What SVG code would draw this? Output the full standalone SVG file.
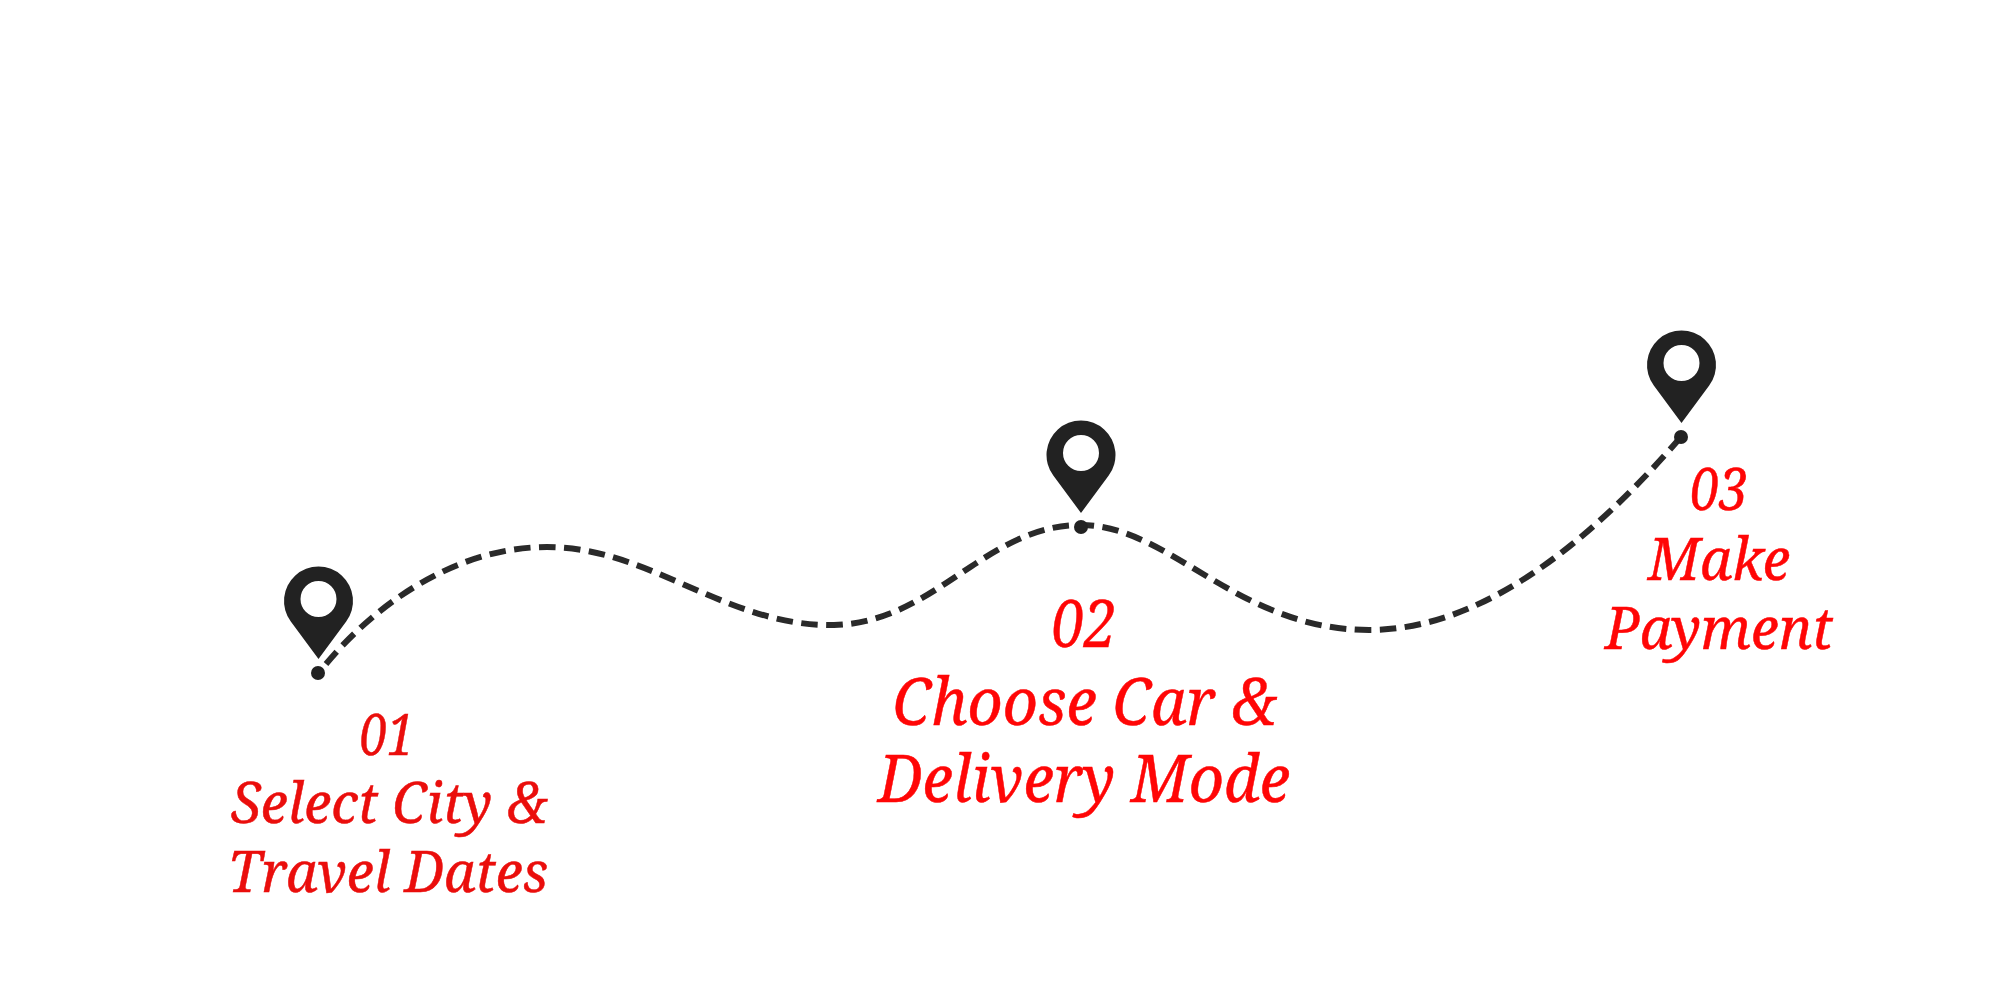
<svg xmlns="http://www.w3.org/2000/svg" width="2000" height="1000" viewBox="0 0 2000 1000">
<style>
text{font-family:"Noto Serif","Droid Serif","DejaVu Serif","Liberation Serif",serif;font-style:italic;text-anchor:middle;fill:#ff0606;stroke:#ff0606;stroke-width:.5}
.s1{font-size:56px;fill:#ea0e0c;stroke:#ea0e0c}
.s2{font-size:66px}
.s3{font-size:58px}
.route{fill:none;stroke:#2a2a2a;stroke-width:6;stroke-dasharray:16.500 8.500}
.dot{fill:#222}
</style>
<defs>
<g id="pin"><path fill="#222" fill-rule="evenodd" d="M0 91L-27.700 53.500A34.500 34.500 0 1 1 27.700 53.500ZM0 13A18 18 0 1 0 0 49A18 18 0 1 0 0 13Z"/></g>
</defs>
<rect width="2000" height="1000" fill="#fff"/>
<g id="connectors"><path class="route" d="M326 664C375 605 455 547 547 547C650 547 727 627 834 625C935 623 985 525 1081 525C1170 525 1237 630 1369 630C1490 630 1600 530 1681 437"/></g>
<g id="node-1"><use href="#pin" x="318.500" y="568"/><circle class="dot" cx="318" cy="673" r="7"/>
<text class="s1" x="387" y="755" textLength="55" lengthAdjust="spacingAndGlyphs">01</text><text class="s1" x="389" y="823" textLength="316" lengthAdjust="spacingAndGlyphs">Select City &amp;</text><text class="s1" x="388" y="892" textLength="320" lengthAdjust="spacingAndGlyphs">Travel Dates</text></g>
<g id="node-2"><use href="#pin" x="1081" y="422"/><circle class="dot" cx="1081" cy="527" r="7"/>
<text class="s2" x="1084" y="647" textLength="65" lengthAdjust="spacingAndGlyphs">02</text><text class="s2" x="1084.500" y="725" textLength="384" lengthAdjust="spacingAndGlyphs">Choose Car &amp;</text><text class="s2" x="1084" y="802" textLength="412" lengthAdjust="spacingAndGlyphs">Delivery Mode</text></g>
<g id="node-3"><use href="#pin" x="1681.500" y="332"/><circle class="dot" cx="1681" cy="437" r="7"/>
<text class="s3" x="1719" y="510" textLength="58" lengthAdjust="spacingAndGlyphs">03</text><text class="s3" x="1719" y="580" textLength="142" lengthAdjust="spacingAndGlyphs">Make</text><text class="s3" x="1719" y="649" textLength="228" lengthAdjust="spacingAndGlyphs">Payment</text></g>
</svg>
